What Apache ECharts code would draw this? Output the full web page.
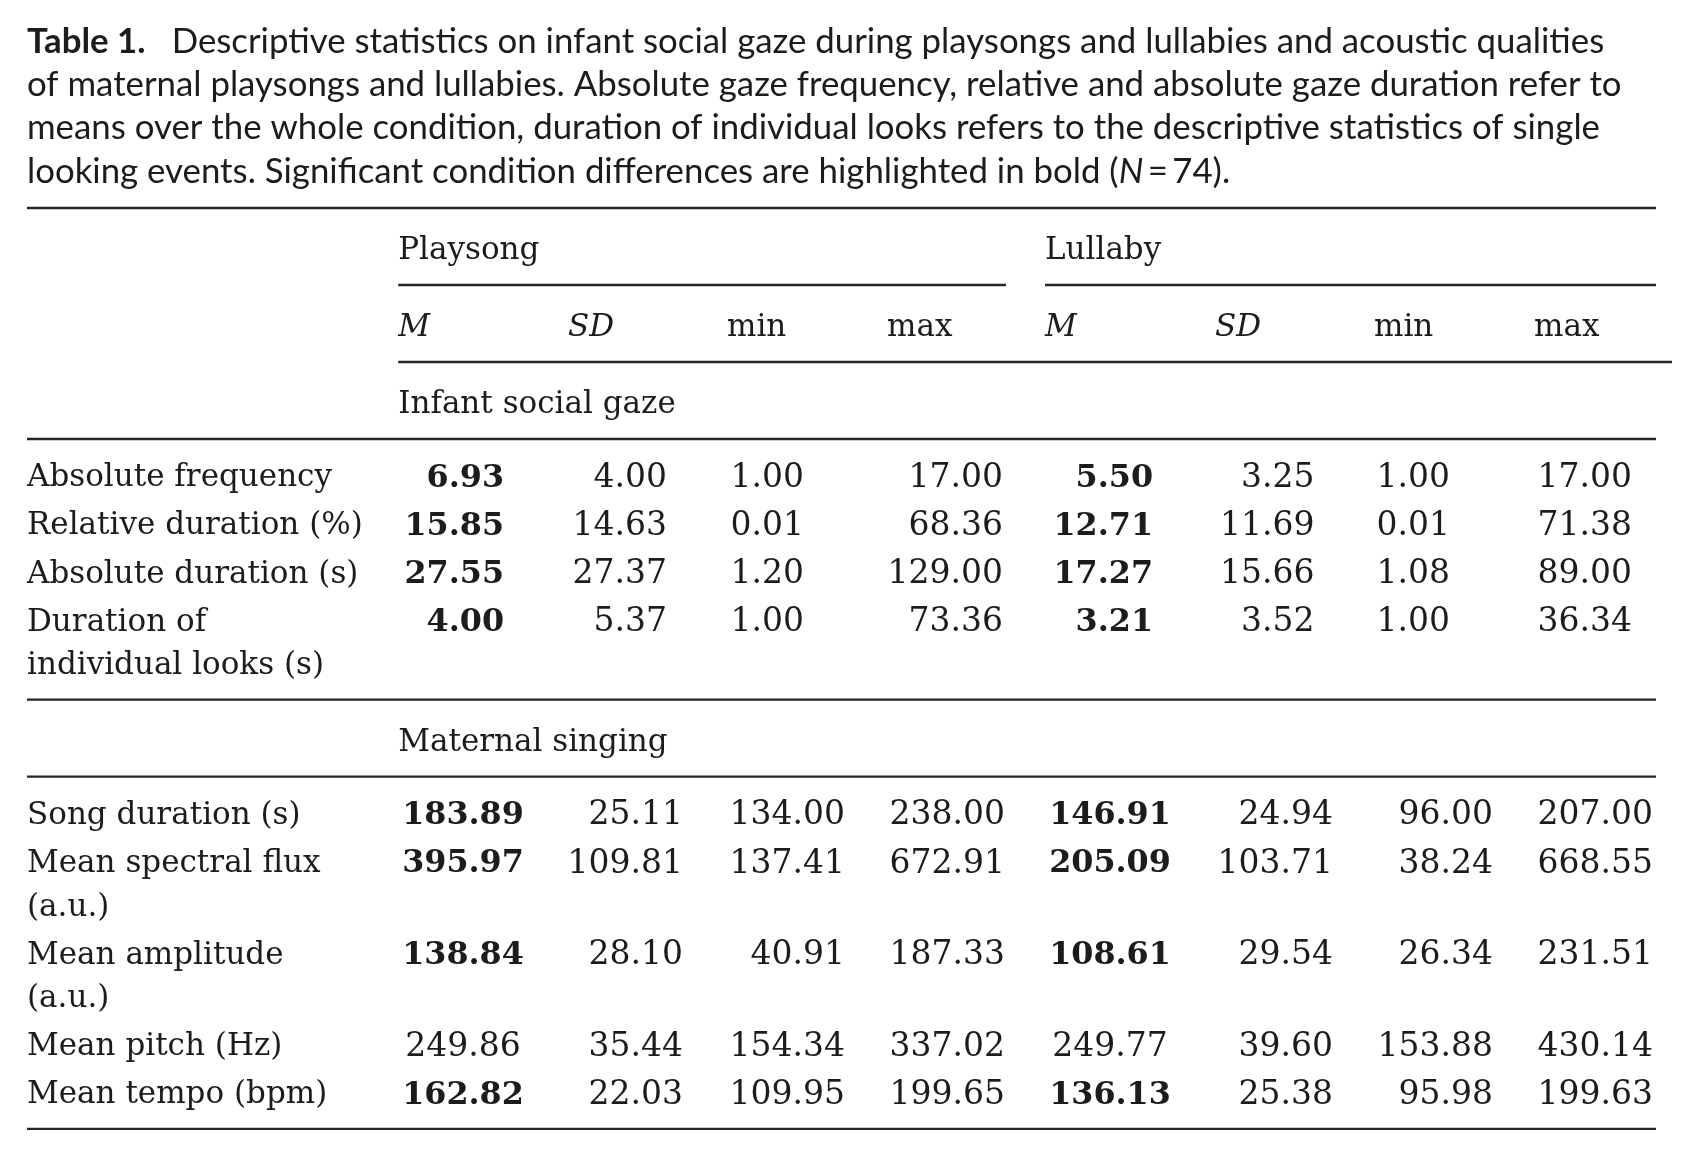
<!DOCTYPE html>
<html>
<head>
<meta charset="utf-8">
<script src="https://cdn.jsdelivr.net/npm/echarts@6/dist/echarts.min.js"></script>
<style>
html,body{margin:0;padding:0;background:#ffffff;}
#chart{width:1698px;height:1156px;}
</style>
</head>
<body>
<div id="chart"></div>
<script>
// ---------------- DATA ----------------
const titleLines = [
  '{b|Table 1.}\u2003Descriptive statistics on infant social gaze during playsongs and lullabies and acoustic qualities',
  'of maternal playsongs and lullabies. Absolute gaze frequency, relative and absolute gaze duration refer to',
  'means over the whole condition, duration of individual looks refers to the descriptive statistics of single',
  'looking events. Significant condition differences are highlighted in bold ({i|N}\u2009=\u200974).'
];
const conditions = ['Playsong', 'Lullaby'];
const statHeaders = ['M', 'SD', 'min', 'max'];
const statItalic = [true, true, false, false];
const sectionNames = ['Infant social gaze', 'Maternal singing'];

const gazeRows = ['Absolute frequency', 'Relative duration (%)', 'Absolute duration (s)', 'Duration of\nindividual looks (s)'];
const gazePlaysongM   = [6.93, 15.85, 27.55, 4.00];
const gazePlaysongSD  = [4.00, 14.63, 27.37, 5.37];
const gazePlaysongMin = [1.00, 0.01, 1.20, 1.00];
const gazePlaysongMax = [17.00, 68.36, 129.00, 73.36];
const gazeLullabyM    = [5.50, 12.71, 17.27, 3.21];
const gazeLullabySD   = [3.25, 11.69, 15.66, 3.52];
const gazeLullabyMin  = [1.00, 0.01, 1.08, 1.00];
const gazeLullabyMax  = [17.00, 71.38, 89.00, 36.34];
const gazeSignificant = [true, true, true, true];

const singingRows = ['Song duration (s)', 'Mean spectral flux\n(a.u.)', 'Mean amplitude\n(a.u.)', 'Mean pitch (Hz)', 'Mean tempo (bpm)'];
const singingPlaysongM   = [183.89, 395.97, 138.84, 249.86, 162.82];
const singingPlaysongSD  = [25.11, 109.81, 28.10, 35.44, 22.03];
const singingPlaysongMin = [134.00, 137.41, 40.91, 154.34, 109.95];
const singingPlaysongMax = [238.00, 672.91, 187.33, 337.02, 199.65];
const singingLullabyM    = [146.91, 205.09, 108.61, 249.77, 136.13];
const singingLullabySD   = [24.94, 103.71, 29.54, 39.60, 25.38];
const singingLullabyMin  = [96.00, 38.24, 26.34, 153.88, 95.98];
const singingLullabyMax  = [207.00, 668.55, 231.51, 430.14, 199.63];
const singingSignificant = [true, true, true, false, true];

// ---------------- LAYOUT / STYLE ----------------
const FONT_T = 'Lato, "Open Sans", sans-serif';
const FONT_S = '"DejaVu Serif", serif';
const INK = '#1c1c1c';
const RULE = '#262626';
const LAYOUT = {
  left: 27, top: 208, width: 1645,
  headerBand: 77, headerText: 39.5, topPad: 35.8, lineH: 43.5, rowGap: 4.6, botPad: 37,
  textDy: 3.5,
  condLeft: [371.2, 1018],
  condRuleEnd: [979, 1629],
  statLeft: [371.2, 541, 700, 860, 1018, 1188, 1347, 1507],
  fullEnd: 1629, statRuleEnd: 1645,
  anchor: {
    gaze: { x: [477, 640, 777, 976, 1126, 1287.5, 1423, 1605],
            align: ['right', 'right', 'right', 'right', 'right', 'right', 'right', 'right'] },
    singing: { x: [436, 656, 818, 978, 1083, 1306, 1466, 1626],
               align: ['center', 'right', 'right', 'right', 'center', 'right', 'right', 'right'] }
  },
  labelSize: 31, numSize: 33, boldNumSize: 31.8
};

// ---------------- BUILD TABLE STRUCTURE ----------------
const texts = [];
const rules = [];
function addText(x, y, text, o) {
  texts.push(Object.assign({ x: x, y: y + LAYOUT.textDy, text: text, align: 'left', size: LAYOUT.labelSize, weight: 'normal', style: 'normal' }, o || {}));
}
let y = 0;
rules.push([0, y, LAYOUT.fullEnd]);
conditions.forEach((c, i) => addText(LAYOUT.condLeft[i], y + LAYOUT.headerText, c));
y += LAYOUT.headerBand;
conditions.forEach((c, i) => rules.push([LAYOUT.condLeft[i], y, LAYOUT.condRuleEnd[i]]));
conditions.forEach((c, ci) => statHeaders.forEach((s, si) =>
  addText(LAYOUT.statLeft[ci * 4 + si], y + LAYOUT.headerText, s, { style: statItalic[si] ? 'italic' : 'normal' })));
y += LAYOUT.headerBand;
rules.push([LAYOUT.condLeft[0], y, LAYOUT.statRuleEnd]);

const sections = [
  { name: sectionNames[0], rows: gazeRows, sig: gazeSignificant, anchor: LAYOUT.anchor.gaze,
    cols: [gazePlaysongM, gazePlaysongSD, gazePlaysongMin, gazePlaysongMax, gazeLullabyM, gazeLullabySD, gazeLullabyMin, gazeLullabyMax] },
  { name: sectionNames[1], rows: singingRows, sig: singingSignificant, anchor: LAYOUT.anchor.singing,
    cols: [singingPlaysongM, singingPlaysongSD, singingPlaysongMin, singingPlaysongMax, singingLullabyM, singingLullabySD, singingLullabyMin, singingLullabyMax] }
];
sections.forEach(sec => {
  addText(LAYOUT.condLeft[0], y + LAYOUT.headerText, sec.name);
  y += LAYOUT.headerBand;
  rules.push([0, y, LAYOUT.fullEnd]);
  let ry = y + LAYOUT.topPad, last = ry;
  sec.rows.forEach((label, r) => {
    const lines = label.split('\n');
    lines.forEach((ln, k) => { addText(0, ry + k * LAYOUT.lineH, ln); last = ry + k * LAYOUT.lineH; });
    sec.cols.forEach((col, c) => {
      const bold = sec.sig[r] && (c % 4 === 0);
      addText(sec.anchor.x[c], ry, col[r].toFixed(2),
        { align: sec.anchor.align[c], size: bold ? LAYOUT.boldNumSize : LAYOUT.numSize, weight: bold ? 'bold' : 'normal' });
    });
    ry += lines.length * LAYOUT.lineH + LAYOUT.rowGap;
  });
  y = last + LAYOUT.botPad;
  rules.push([0, y, LAYOUT.fullEnd]);
});
const H = y;

// ---------------- CHART ----------------
const chart = echarts.init(document.getElementById('chart'), null, { renderer: 'canvas' });
const titleStyle = { fontFamily: FONT_T, fontSize: 34.8, lineHeight: 43.3, color: INK, fontWeight: 'normal' };
chart.setOption({
  animation: false,
  backgroundColor: '#ffffff',
  title: {
    left: 27, top: 20, padding: 0,
    text: titleLines.join('\n'),
    textStyle: Object.assign({}, titleStyle, {
      rich: {
        b: Object.assign({}, titleStyle, { fontWeight: 'bold' }),
        i: Object.assign({}, titleStyle, { fontStyle: 'italic' })
      }
    })
  },
  grid: { left: LAYOUT.left, top: LAYOUT.top, width: LAYOUT.width, height: H },
  xAxis: { type: 'value', min: 0, max: LAYOUT.width, show: false },
  yAxis: { type: 'value', min: 0, max: H, inverse: true, show: false },
  series: [
    {
      type: 'custom', coordinateSystem: 'cartesian2d', silent: true, clip: false,
      data: rules.map(r => [r[0], r[1], r[2]]),
      encode: { x: [0, 2], y: 1 },
      renderItem: function (p, api) {
        const a = api.coord([api.value(0), api.value(1)]);
        const b = api.coord([api.value(2), api.value(1)]);
        return { type: 'line', shape: { x1: a[0], y1: a[1], x2: b[0], y2: b[1] },
                 style: { stroke: RULE, lineWidth: 2.3 } };
      }
    },
    {
      type: 'custom', coordinateSystem: 'cartesian2d', silent: true, clip: false,
      data: texts.map((t, i) => [t.x, t.y, i]),
      encode: { x: 0, y: 1 },
      renderItem: function (p, api) {
        const t = texts[api.value(2)];
        const a = api.coord([api.value(0), api.value(1)]);
        return { type: 'text', x: a[0], y: a[1],
                 style: { text: t.text, fill: INK, fontSize: t.size, fontFamily: FONT_S,
                          fontWeight: t.weight, fontStyle: t.style, align: t.align, verticalAlign: 'middle' } };
      }
    }
  ]
});
</script>
</body>
</html>
